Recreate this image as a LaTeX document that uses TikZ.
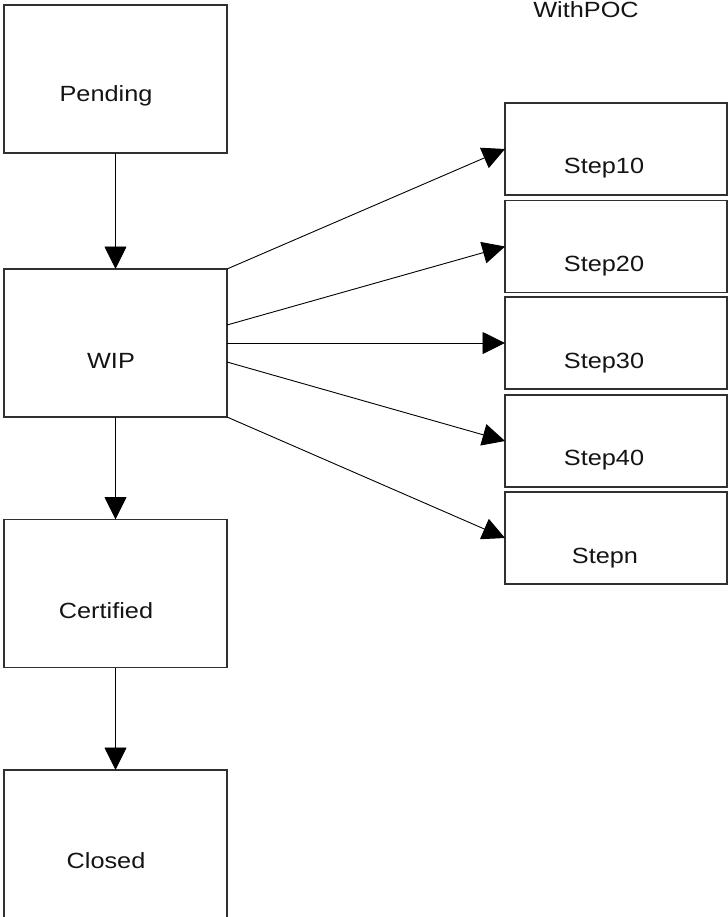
\documentclass[tikz,border=0pt]{standalone}
\usepackage{fontspec}
\setmainfont{Liberation Sans}[FakeStretch=1.15]
\usetikzlibrary{arrows.meta,calc}
\definecolor{boxline}{HTML}{303030}
\definecolor{txt}{HTML}{141414}
\begin{document}
\begin{tikzpicture}[x=1bp,y=-1bp,
  bigbox/.style={draw=boxline,line width=1.3bp,minimum width=223bp,minimum height=148bp,inner sep=0pt,outer sep=0pt},
  stepbox/.style={draw=boxline,line width=1.3bp,minimum width=222bp,minimum height=92bp,inner sep=0pt,outer sep=0pt},
  lbl/.style={anchor=base,inner sep=0pt,text=txt,font=\fontsize{22bp}{26bp}\selectfont},
  conn/.style={draw=black,line width=0.9bp,-{Triangle[length=22.5bp,width=22bp]}}]
\useasboundingbox (0,0) rectangle (728,917);
\clip (0,0) rectangle (728,917);
% left column
\node[bigbox] (pending)   at (115.5,79)  {};
\node[bigbox] (wip)       at (115.5,343) {};
\node[bigbox] (certified) at (115.5,593.5) {};
\node[bigbox] (closed)    at (115.5,844) {};
\node[lbl] (tpending)   at (106,101.7) {Pending};
\node[lbl] (twip)       at (111,368)   {WIP};
\node[lbl] (tcertified) at (106,618.3) {Certified};
\node[lbl] (tclosed)    at (106,868.7) {Closed};
% right column
\node[stepbox] (s10) at (616,149)   {};
\node[stepbox] (s20) at (616,246.5) {};
\node[stepbox] (s30) at (616,343)   {};
\node[stepbox] (s40) at (616,441)   {};
\node[stepbox] (sn)  at (616,538)   {};
\node[lbl] (ts10) at (604,173.3) {Step10};
\node[lbl] (ts20) at (604,271.7) {Step20};
\node[lbl] (ts30) at (604,368.3) {Step30};
\node[lbl] (ts40) at (604,465)   {Step40};
\node[lbl] (tsn)  at (605,563.3) {Stepn};
\node[lbl] (title) at (586,17) {WithPOC};
% vertical connectors
\draw[conn] (pending.south) -- (wip.north);
\draw[conn] (wip.south) -- (certified.north);
\draw[conn] (certified.south) -- (closed.north);
% fan-out connectors
\draw[conn] (wip.north east) -- (s10.west);
\draw[conn] ($(wip.east)+(0,-18)$) -- (s20.west);
\draw[conn] (wip.east) -- (s30.west);
\draw[conn] ($(wip.east)+(0,19)$) -- (s40.west);
\draw[conn] (wip.south east) -- (sn.west);
\end{tikzpicture}
\end{document}
